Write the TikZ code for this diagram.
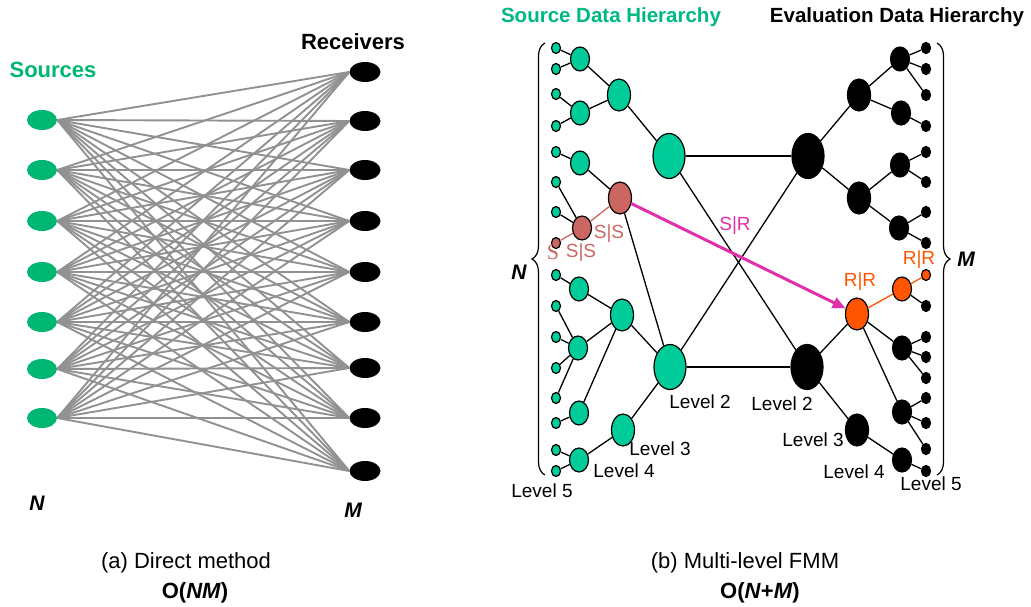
\documentclass[tikz,border=0pt]{standalone}
\usepackage{fontspec}
\setmainfont{Liberation Sans}
\newfontfamily\seriffont{Liberation Serif}
\usetikzlibrary{shapes.geometric,decorations.pathreplacing,arrows.meta}

\definecolor{srcgreen}{RGB}{0,182,115}
\definecolor{titlegreen}{RGB}{0,184,132}
\definecolor{tealnode}{RGB}{0,204,153}
\definecolor{ssred}{RGB}{204,102,96}
\definecolor{rrorange}{RGB}{255,85,0}
\definecolor{srmag}{RGB}{224,48,170}
\definecolor{wire}{RGB}{145,145,145}

\newcommand{\fs}[1]{\fontsize{#1}{#1}\selectfont}

\tikzset{
  nd/.style={ellipse,draw=black,line width=1.2pt,inner sep=0pt},
  lv5/.style={nd,minimum width=9pt,minimum height=11pt},
  lv4/.style={nd,minimum width=19pt,minimum height=24pt},
  lv3/.style={nd,minimum width=23pt,minimum height=32pt},
  lv2/.style={nd,minimum width=32pt,minimum height=45pt},
  tl/.style={fill=tealnode},
  bk/.style={fill=black},
  rd/.style={fill=ssred},
  og/.style={fill=rrorange},
  treeedge/.style={draw=black,line width=1.3pt},
  srcnode/.style={ellipse,fill=srcgreen,inner sep=0pt,minimum width=30pt,minimum height=20pt},
  rcvnode/.style={ellipse,fill=black,inner sep=0pt,minimum width=31pt,minimum height=20pt},
  wireline/.style={draw=wire,line width=1.9pt},
  txt/.style={inner sep=0pt,text height=0.72em,text depth=0pt},
  lvl/.style={txt,font=\fs{19}},
  elbl/.style={txt,font=\fs{19}},
  title/.style={txt,font=\fs{20.5}\bfseries},
  count/.style={txt,font=\fs{21}\bfseries\itshape},
  captext/.style={txt,font=\fs{22}},
  bracestyle/.style={draw=black,line width=1.2pt,decorate,decoration={brace,amplitude=13pt}},
  magarrow/.style={draw=srmag,line width=3pt,-{Triangle[length=13pt,width=11pt]}}
}

\begin{document}
\begin{tikzpicture}[x=1pt,y=-1pt]
\useasboundingbox (0,0) rectangle (1031,607);

% ---------- (a) direct method: every source talks to every receiver ----------
\foreach \i/\y in {1/120,2/170,3/221,4/272,5/322,6/369,7/418}
  \node[srcnode] (src\i) at (42,\y) {};
\foreach \j/\y in {1/72,2/121,3/170,4/221,5/272,6/322,7/368,8/418,9/471}
  \node[rcvnode] (rcv\j) at (365,\y) {};
\foreach \i in {1,...,7}
  \foreach \j in {1,...,9}
    \draw[wireline] (src\i.east) -- (rcv\j.west);

\node[title,text=srcgreen,font=\fs{22}\bfseries] (srclbl) at (53,74) {Sources};
\node[title,font=\fs{22}\bfseries] (rcvlbl) at (353,45.5) {Receivers};
\node[count] (nA) at (37,507) {N};
\node[count] (mA) at (353,514) {M};

\node[captext] (capA) at (186,565) {(a) Direct method};
\node[captext,font=\fs{22}\bfseries] (cxA) at (195,595) {O(\textit{NM})};

% ---------- (b) multi-level FMM: source tree ----------
\node[title,text=titlegreen] (srctitle) at (611,18.5) {Source Data Hierarchy};
\node[title] (evaltitle) at (897,18.5) {Evaluation Data Hierarchy};

% level 5 (leaves)
\foreach \k/\y in {1/48,2/69,3/94,4/126,5/152,6/182,7/212,9/275,10/306,11/337,12/368,13/398,14/423,15/450,16/471}
  \node[lv5,tl] (s\k) at (556,\y) {};
\node[lv5,rd] (s8) at (556,243) {};
% level 4
\node[lv4,tl] (a4) at (580,59) {};
\node[lv4,tl] (b4) at (580,113) {};
\node[lv4,tl] (c4) at (580,163) {};
\node[lv4,rd] (d4) at (582,228) {};
\node[lv4,tl] (e4) at (579,289) {};
\node[lv4,tl] (f4) at (578,348) {};
\node[lv4,tl] (g4) at (579,413) {};
\node[lv4,tl] (h4) at (579,460) {};
% level 3
\node[lv3,tl] (a3) at (619,95) {};
\node[lv3,rd] (b3) at (620,198) {};
\node[lv3,tl] (c3) at (622,315) {};
\node[lv3,tl] (d3) at (623,430) {};
% level 2
\node[lv2,tl] (a2) at (669,156) {};
\node[lv2,tl] (b2) at (670,367) {};

\foreach \u/\v in {s1/a4,s2/a4,s3/b4,s4/b4,s5/c4,s6/d4,s7/d4,s9/e4,s10/f4,s11/f4,s12/f4,s13/f4,s14/g4,s15/h4,s16/h4,
                   a4/a3,b4/a3,c4/b3,e4/c3,f4/c3,g4/c3,h4/d3,
                   a3/a2,b3/b2,c3/b2,d3/b2}
  \draw[treeedge] (\u) -- (\v);
\draw[treeedge,draw=ssred] (s8) -- (d4);
\draw[treeedge,draw=ssred] (d4) -- (b3);

% ---------- evaluation tree ----------
\foreach \k/\y in {1/48,2/69,3/95,4/126,5/152,6/182,7/212,8/243,10/306,11/337,12/357,13/378,14/398,15/423,16/449,17/471}
  \node[lv5,bk] (t\k) at (926,\y) {};
\node[lv5,og] (t9) at (926,275) {};
% level 4
\node[lv4,bk] (A4) at (900,59) {};
\node[lv4,bk] (B4) at (901,113) {};
\node[lv4,bk] (C4) at (900,165) {};
\node[lv4,bk] (D4) at (899,228) {};
\node[lv4,og] (E4) at (902,289) {};
\node[lv4,bk] (F4) at (902,348) {};
\node[lv4,bk] (G4) at (902,412) {};
\node[lv4,bk] (H4) at (902,460) {};
% level 3
\node[lv3,bk] (A3) at (859,95) {};
\node[lv3,bk] (B3) at (859,198) {};
\node[lv3,og] (C3) at (857,314) {};
\node[lv3,bk] (D3) at (857,430) {};
% level 2
\node[lv2,bk] (A2) at (808,156) {};
\node[lv2,bk] (B2) at (807,367) {};

\foreach \u/\v in {t1/A4,t2/A4,t3/A4,t4/B4,t5/C4,t6/C4,t7/D4,t8/D4,t10/E4,t11/F4,t12/F4,t13/F4,t14/G4,t15/G4,t16/G4,t17/H4,
                   A4/A3,B4/A3,C4/B3,D4/B3,F4/C3,G4/C3,H4/D3,
                   A3/A2,B3/A2,C3/B2,D3/B2}
  \draw[treeedge] (\u) -- (\v);
\draw[treeedge,draw=rrorange] (t9) -- (E4);
\draw[treeedge,draw=rrorange] (E4) -- (C3);

% level-2 interactions between the two trees
\draw[treeedge] (a2) -- (A2);
\draw[treeedge] (a2) -- (B2);
\draw[treeedge] (b2) -- (A2);
\draw[treeedge] (b2) -- (B2);

% source-to-receiver translation
\draw[magarrow] (b3) -- (C3);

% translation labels
\node[elbl,text=ssred] (ssA) at (609,234.5) {S|S};
\node[elbl,text=ssred] (ssB) at (581,254) {S|S};
\node[elbl,text=ssred,font=\fs{22}\seriffont] (sS) at (553,256) {S};
\node[elbl,text=srmag] (srl) at (735,226.5) {S|R};
\node[elbl,text=rrorange] (rrA) at (860,282.5) {R|R};
\node[elbl,text=rrorange] (rrB) at (919,260.5) {R|R};

% level labels
\node[lvl] (sl2) at (700,405) {Level 2};
\node[lvl] (sl3) at (660,452) {Level 3};
\node[lvl] (sl4) at (624,474) {Level 4};
\node[lvl] (sl5) at (542,494) {Level 5};
\node[lvl] (el2) at (782,407) {Level 2};
\node[lvl] (el3) at (813,443) {Level 3};
\node[lvl] (el4) at (854,475) {Level 4};
\node[lvl] (el5) at (931,487) {Level 5};

% braces with particle counts
\coordinate (lbtop) at (545,43);
\coordinate (lbbot) at (545,475);
\coordinate (rbtop) at (937,43);
\coordinate (rbbot) at (937,475);
\draw[bracestyle] (lbbot) -- (lbtop);
\draw[bracestyle] (rbtop) -- (rbbot);
\node[count] (nB) at (519,276) {N};
\node[count] (mB) at (966,263) {M};

\node[captext] (capB) at (745,565) {(b) Multi-level FMM};
\node[captext,font=\fs{22}\bfseries] (cxB) at (760,595) {O(\textit{N}+\textit{M})};
\end{tikzpicture}
\end{document}
